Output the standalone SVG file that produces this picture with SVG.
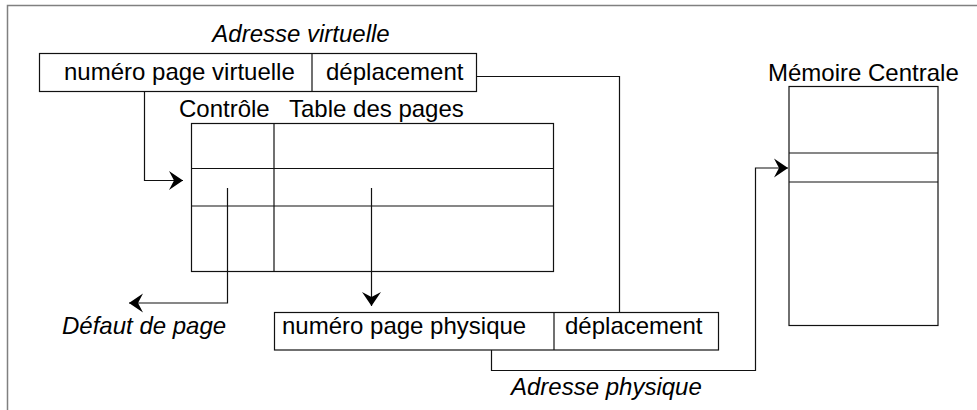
<svg xmlns="http://www.w3.org/2000/svg" width="977" height="410" viewBox="0 0 977 410">
<style>
text{font-family:"Liberation Sans",Arial,sans-serif;font-size:24px;fill:#000}
.it{font-style:italic}
.box{fill:none;stroke:#111;stroke-width:1.2}
.ln{fill:none;stroke:#111;stroke-width:1.2}
.frame{fill:none;stroke:#808080;stroke-width:1.5}
</style>
<defs>
<marker id="ah" viewBox="-16 -11 17 22" refX="0" refY="0" markerWidth="17" markerHeight="22" markerUnits="userSpaceOnUse" orient="auto">
<path d="M0,0 L-14,-9.5 L-9,0 L-14,9.5 Z" fill="#000"/>
</marker>
</defs>
<path class="frame" d="M7.5,410 V5.5 H977"/>
<g id="virtual-address">
<text class="it" x="301" y="42" text-anchor="middle">Adresse virtuelle</text>
<rect class="box" x="39.5" y="53.5" width="437" height="38"/>
<line class="box" x1="312" y1="53.5" x2="312" y2="91.5"/>
<text x="64" y="80">numéro page virtuelle</text>
<text x="326" y="80">déplacement</text>
</g>
<g id="page-table">
<text x="179" y="117">Contrôle</text>
<text x="289" y="117">Table des pages</text>
<rect class="box" x="191.5" y="123.5" width="362" height="148"/>
<line class="box" x1="274" y1="123.5" x2="274" y2="271.5"/>
<line class="box" x1="191.5" y1="168.5" x2="553.5" y2="168.5"/>
<line class="box" x1="191.5" y1="206" x2="553.5" y2="206"/>
</g>
<g id="memory">
<text x="768" y="81">Mémoire Centrale</text>
<rect class="box" x="789" y="86.5" width="149" height="239"/>
<line class="box" x1="789" y1="153" x2="938" y2="153"/>
<line class="box" x1="789" y1="182" x2="938" y2="182"/>
</g>
<g id="physical-address">
<rect class="box" x="274.5" y="312.5" width="444" height="37.5"/>
<line class="box" x1="554" y1="312.5" x2="554" y2="350"/>
<text x="282" y="334">numéro page physique</text>
<text x="565" y="334">déplacement</text>
<text class="it" x="511" y="395">Adresse physique</text>
</g>
<g id="fault">
<text class="it" x="62" y="334">Défaut de page</text>
</g>
<g id="connectors">
<path class="ln" d="M144.5,91.5 V180.5 H183" marker-end="url(#ah)"/>
<path class="ln" d="M227.5,188 V303 H129" marker-end="url(#ah)"/>
<path class="ln" d="M371.5,188 V306" marker-end="url(#ah)"/>
<path class="ln" d="M476.5,76.5 H619.5 V312.5"/>
<path class="ln" d="M491.5,350 V370.5 H755.5 V168 H788" marker-end="url(#ah)"/>
</g>
</svg>
